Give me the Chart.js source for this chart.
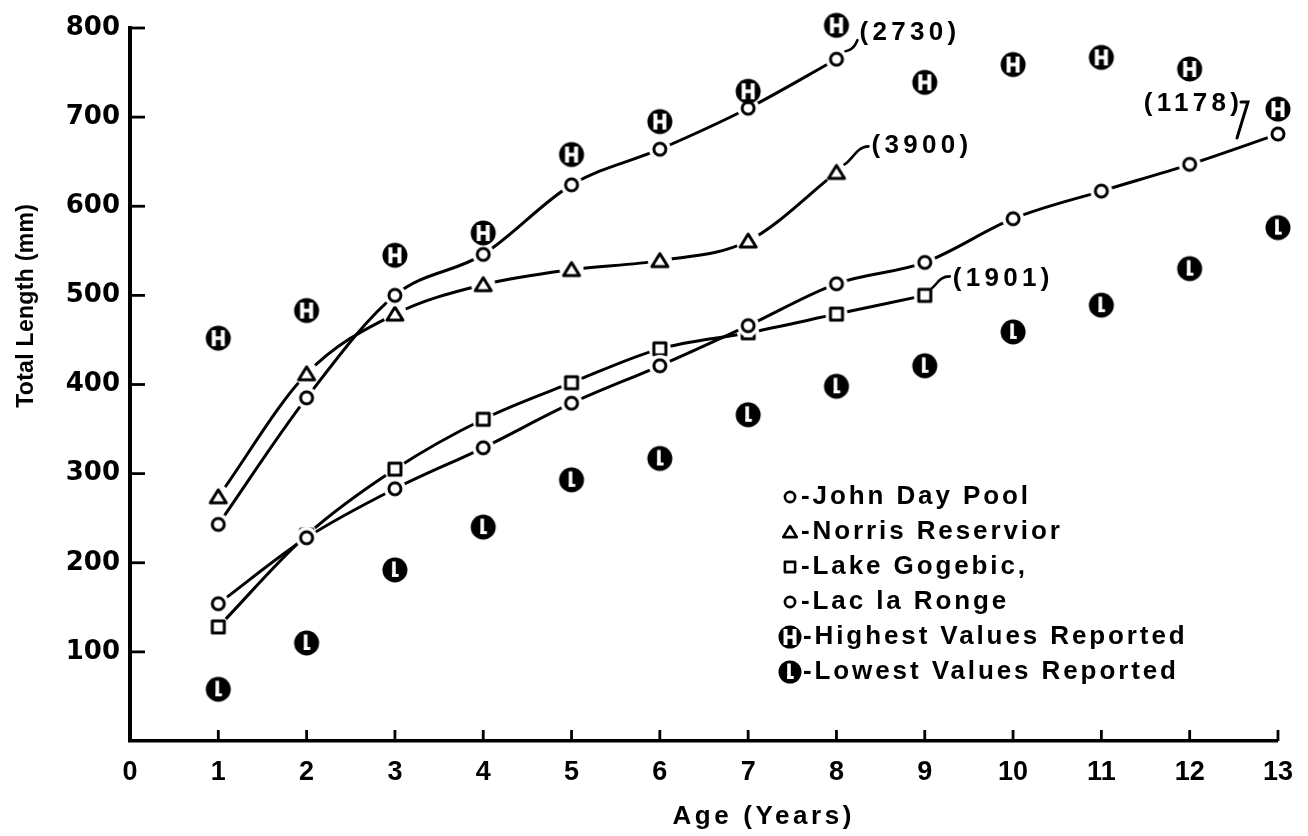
<!DOCTYPE html>
<html><head><meta charset="utf-8">
<script src="https://cdn.jsdelivr.net/npm/chart.js@4.4.1/dist/chart.umd.min.js"></script>
<style>html,body{margin:0;padding:0;background:#fff;}canvas{display:block}</style>
</head><body>
<canvas id="c" width="1308" height="836"></canvas>
<script>
// ---- data ----
const ages = [1,2,3,4,5,6,7,8,9,10,11,12,13];
const johnDayPool     = [243,385,500,546,624,664,710,765];
const norrisReservoir = [274,412,479,512,529,539,561,638];
const lakeGogebic     = [128,231,305,361,402,440,458,479,500];
const lacLaRonge      = [154,228,283,329,379,421,466,513,537,586,617,647,681];
const highestValues   = [452,483,545,570,658,695,729,803,739,759,767,754,709];
const lowestValues    = [58,110,192,240,293,317,366,398,421,459,489,530,576];
const xTickLabels = ['0','1','2','3','4','5','6','7','8','9','10','11','12','13'];
const yTickValues = [100,200,300,400,500,600,700,800];
const seriesNames = ['John Day Pool','Norris Reservior','Lake Gogebic,','Lac la Ronge','Highest Values Reported','Lowest Values Reported'];
const sampleSizes = ['(2730)','(3900)','(1901)','(1178)'];
const xTitle = 'Age (Years)';
const yTitle = 'Total Length (mm)';

function pts(arr){ return arr.map((v,i)=>({x:ages[i], y:v})); }

function makeMarker(kind, halo, small){
  const s = 34, m = s/2;
  const c = document.createElement('canvas'); c.width = s; c.height = s;
  const g = c.getContext('2d');
  if (halo){ g.fillStyle='#fff'; g.beginPath(); g.arc(m,m,halo,0,Math.PI*2); g.fill(); }
  g.strokeStyle='#000'; g.fillStyle='#fff'; g.lineWidth = small ? 2.6 : 3; g.lineJoin='round';
  const k = small ? 0.85 : 1;
  if (kind==='circle'){ g.beginPath(); g.arc(m,m,6*k,0,Math.PI*2); g.fill(); g.stroke(); }
  else if (kind==='triangle'){ g.beginPath(); g.moveTo(m,m-7*k); g.lineTo(m+8*k,m+6*k); g.lineTo(m-8*k,m+6*k); g.closePath(); g.fill(); g.stroke(); }
  else if (kind==='square'){ g.beginPath(); g.rect(m-6*k,m-6*k,12*k,12*k); g.fill(); g.stroke(); }
  else if (kind==='H' || kind==='L'){
    const r = small ? 11.5 : 12.5;
    g.fillStyle='#000'; g.beginPath(); g.arc(m,m,r,0,Math.PI*2); g.fill();
    g.fillStyle='#fff';
    if (kind==='H'){
      g.fillRect(m-6.5,m-8,4,16); g.fillRect(m+2.5,m-8,4,16); g.fillRect(m-3,m-1.8,6,3.6);
    } else {
      g.fillRect(m-2.8,m-8.5,3.6,15.5); g.fillRect(m-2.8,m+4,6.5,3);
    }
  }
  return c;
}
const mk = {
  circle: makeMarker('circle',11), triangle: makeMarker('triangle',12), square: makeMarker('square',11),
  H: makeMarker('H',0), L: makeMarker('L',0)
};
const lg = {
  circle: makeMarker('circle',0,true), triangle: makeMarker('triangle',0,true), square: makeMarker('square',0,true),
  H: makeMarker('H',0,true), L: makeMarker('L',0,true)
};

function lineDs(label, data, style, order){
  return { label, data: pts(data), showLine:true, borderColor:'#000', borderWidth:3, cubicInterpolationMode:'monotone',
    pointStyle: style, pointRadius:7, clip:false, order, fill:false };
}
const datasets = [
  lineDs(seriesNames[0], johnDayPool, mk.circle, 4),
  lineDs(seriesNames[1], norrisReservoir, mk.triangle, 5),
  lineDs(seriesNames[2], lakeGogebic, mk.square, 3),
  lineDs(seriesNames[3], lacLaRonge, mk.circle, 2),
  { label: seriesNames[4], data: pts(highestValues), showLine:false, pointStyle: mk.H, pointRadius:12, clip:false, order:1 },
  { label: seriesNames[5], data: pts(lowestValues), showLine:false, pointStyle: mk.L, pointRadius:12, clip:false, order:0 }
];

function spacedText(ctx, text, x, y, font, spacing, align){
  ctx.save();
  ctx.font = font; ctx.fillStyle = '#000';
  ctx.letterSpacing = spacing + 'px';
  ctx.textBaseline = 'middle';
  let w = ctx.measureText(text).width - spacing;
  let sx = x;
  if (align==='center') sx = x - w/2; else if (align==='right') sx = x - w;
  ctx.textAlign = 'left';
  ctx.fillText(text, sx, y);
  ctx.restore();
}

const decor = {
  id:'decor',
  afterDraw(chart){
    const ctx = chart.ctx, ca = chart.chartArea;
    const xs = chart.scales.x, ys = chart.scales.y;
    ctx.save();
    ctx.strokeStyle='#000'; ctx.lineCap='butt';
    // inward tick marks
    ctx.lineWidth = 2.8;
    yTickValues.forEach(v=>{ const y = ys.getPixelForValue(v); ctx.beginPath(); ctx.moveTo(ca.left, y); ctx.lineTo(ca.left+15, y); ctx.stroke(); });
    ages.forEach(a=>{ const x = xs.getPixelForValue(a); ctx.beginPath(); ctx.moveTo(x, ca.bottom); ctx.lineTo(x, ca.bottom-11); ctx.stroke(); });

    // axis titles
    spacedText(ctx, xTitle, 762, 817, 'bold 26px "Liberation Sans"', 3.6, 'center');
    ctx.save(); ctx.translate(27, 306); ctx.rotate(-Math.PI/2);
    spacedText(ctx, yTitle, 0, 0, 'bold 23px "Liberation Sans"', 0.3, 'center');
    ctx.restore();

    // sample size annotations with leaders
    const annFont = 'bold 26px "Liberation Sans"';
    ctx.lineWidth = 2.6; ctx.lineCap='round';
    const last = (i)=>{ const d = chart.getDatasetMeta(i).data; return d[d.length-1]; };
    let P = last(0);
    ctx.beginPath(); ctx.moveTo(P.x+9, P.y-8); ctx.quadraticCurveTo(P.x+17, P.y-9, P.x+21, P.y-19); ctx.stroke();
    spacedText(ctx, sampleSizes[0], P.x+23, P.y-26, annFont, 4.3, 'left');
    P = last(1);
    ctx.beginPath(); ctx.moveTo(P.x+8, P.y-8); ctx.bezierCurveTo(P.x+16, P.y-12, P.x+20, P.y-26, P.x+32, P.y-26); ctx.stroke();
    spacedText(ctx, sampleSizes[1], P.x+35, P.y-27, annFont, 4.3, 'left');
    P = last(2);
    ctx.beginPath(); ctx.moveTo(P.x+7, P.y-7); ctx.bezierCurveTo(P.x+13, P.y-12, P.x+15, P.y-19, P.x+25, P.y-19); ctx.stroke();
    spacedText(ctx, sampleSizes[2], P.x+28, P.y-17, annFont, 4.3, 'left');
    P = last(3);
    ctx.lineWidth = 3;
    ctx.beginPath(); ctx.moveTo(P.x-37, P.y-32); ctx.lineTo(P.x-30, P.y-32); ctx.lineTo(P.x-41, P.y+4); ctx.stroke();
    spacedText(ctx, sampleSizes[3], P.x-39, P.y-30, annFont, 4.3, 'right');

    // legend
    const keys = ['circle','triangle','square','circle','H','L'];
    const lx = 790, ly0 = 497, step = 35;
    keys.forEach((k,i)=>{
      const y = ly0 + i*step;
      const im = lg[k];
      ctx.drawImage(im, lx - im.width/2, y - im.height/2);
      spacedText(ctx, '-' + seriesNames[i], (k==='H'||k==='L') ? 803 : 801, y, 'bold 26px "Liberation Sans"', 2.9, 'left');
    });
    ctx.restore();
  }
};

new Chart(document.getElementById('c'), {
  type:'scatter',
  data:{ datasets },
  options:{
    responsive:false, animation:false, devicePixelRatio:1,
    layout:{ padding:{ left:0, right:20, top:28, bottom:0 } },
    plugins:{ legend:{display:false}, tooltip:{enabled:false} },
    scales:{
      x:{ type:'linear', min:0, max:13,
          afterFit(s){ s.height = 95; },
          grid:{ display:false, drawTicks:false },
          border:{ display:true, color:'#000', width:3.5 },
          ticks:{ stepSize:1, autoSkip:false, maxRotation:0, padding:15, color:'#000',
                  font:{ family:'"Liberation Sans"', weight:'bold', size:27 },
                  callback:(v)=> xTickLabels[v] ?? '' } },
      y:{ type:'linear', min:0, max:800,
          afterFit(s){ s.width = 130; },
          grid:{ display:false, drawTicks:false },
          border:{ display:true, color:'#000', width:4 },
          ticks:{ stepSize:100, padding:10, color:'#000',
                  font:{ family:'"DejaVu Sans"', weight:'bold', size:26 },
                  callback:(v)=> yTickValues.includes(v) ? String(v) : '' } }
    }
  },
  plugins:[decor]
});
</script>
</body></html>
